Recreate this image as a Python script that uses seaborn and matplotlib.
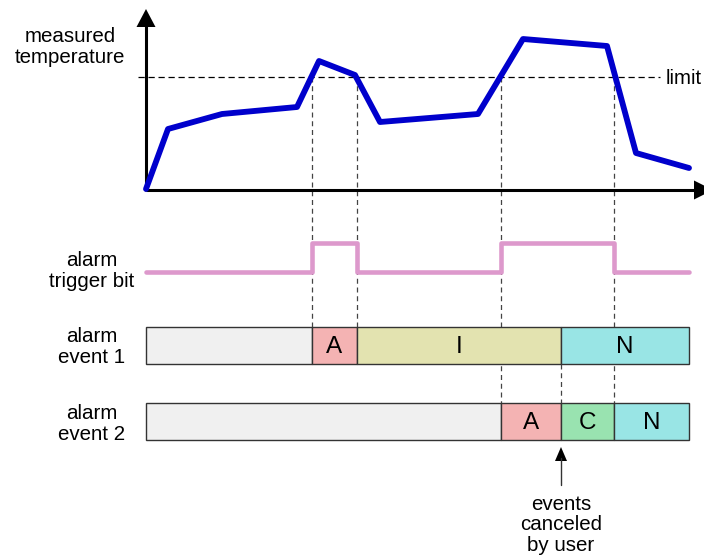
import matplotlib
matplotlib.use("Agg")
import matplotlib.pyplot as plt
import seaborn as sns
import pandas as pd

sns.set_theme(style="white")
plt.rcParams['font.family'] = ['Liberation Sans', 'DejaVu Sans']
plt.rcParams['text.color'] = 'black'

# ---- data (time and temperature in diagram units) ----
time = [0, 22, 76, 151, 173, 209, 234, 332, 377, 461, 490, 543]
temp = [1, 61, 76, 83, 129, 115, 68, 76, 151, 144, 37, 22]
limit = 113
trigger_times = [0, 166, 211, 355, 468, 543]
trigger_levels = [0, 1, 0, 1, 0, 0]
cancel_time = 415
event1 = [(0, 166, "", "#f0f0f0"), (166, 211, "A", "#f4b3b3"),
          (211, 415, "I", "#e3e3b0"), (415, 543, "N", "#99e5e5")]
event2 = [(0, 355, "", "#f0f0f0"), (355, 415, "A", "#f4b3b3"),
          (415, 468, "C", "#99e3b0"), (468, 543, "N", "#99e5e5")]

# ---- layout ----
X0, Y0 = 146, 190
TRIG_LOW, TRIG_HIGH = 272, 243
E1_TOP, E1_BOT = 327, 364
E2_TOP, E2_BOT = 403, 440

fig = plt.figure(figsize=(7.04, 5.58), dpi=100)
ax = fig.add_axes([0, 0, 1, 1])
ax.set_xlim(0, 704)
ax.set_ylim(558, 0)
ax.axis("off")

FS = 14.8
FS_BAR = 17.5
# dashed guide lines
dash = dict(color="#444444", lw=0.9, ls=(0, (4, 3)), zorder=1)
for t in (166, 211):
    ax.plot([X0 + t, X0 + t], [Y0 - limit, E1_TOP], **dash)
for t in (355, 468):
    ax.plot([X0 + t, X0 + t], [Y0 - limit, E2_TOP], **dash)
ax.plot([X0 + cancel_time] * 2, [E1_BOT, E2_TOP], **dash)
ax.plot([138, 660], [Y0 - limit] * 2, color="black", lw=0.9, ls=(0, (5, 3)), zorder=1)
ax.text(666, Y0 - limit + 1, "limit", fontsize=FS, va="center", ha="left", color="black")

# axes with arrows
ax.plot([X0, X0], [Y0 + 1, 22], color="black", lw=2.2, zorder=3, solid_capstyle="butt")
ax.plot([X0, 698], [Y0, Y0], color="black", lw=2.2, zorder=3, solid_capstyle="butt")
ax.fill([X0, X0 - 9.5, X0 + 9.5], [9, 27, 27], color="black", zorder=3, lw=0)
ax.fill([713, 694, 694], [Y0, Y0 - 9.5, Y0 + 9.5], color="black", zorder=3, lw=0)

# temperature curve
df = pd.DataFrame({"x": [X0 + t for t in time], "y": [Y0 - v for v in temp]})
sns.lineplot(data=df, x="x", y="y", ax=ax, color="#0000cc", lw=4.2, sort=False,
             zorder=4, estimator=None)

# trigger bit
tx, ty = [], []
for i in range(len(trigger_times) - 1):
    lvl = TRIG_HIGH if trigger_levels[i] else TRIG_LOW
    tx += [X0 + trigger_times[i], X0 + trigger_times[i + 1]]
    ty += [lvl, lvl]
dft = pd.DataFrame({"x": tx, "y": ty})
sns.lineplot(data=dft, x="x", y="y", ax=ax, color="#dd99cc", lw=3.3, sort=False,
             zorder=4, estimator=None)
ax.set_xlim(0, 704)
ax.set_ylim(558, 0)
ax.set_xlabel("")
ax.set_ylabel("")

# event bars
for segs, top, bot in ((event1, E1_TOP, E1_BOT), (event2, E2_TOP, E2_BOT)):
    for s, e, lab, col in segs:
        ax.barh((top + bot) / 2, e - s, left=X0 + s, height=bot - top, color=col,
                edgecolor="#333333", lw=1.0, zorder=2)
        if lab:
            ax.text(X0 + (s + e) / 2, (top + bot) / 2 + 1.5, lab, fontsize=FS_BAR,
                    ha="center", va="center", zorder=5, color="black")

# row labels
kw = dict(fontsize=FS, ha="center", va="center", linespacing=1.12, color="black")
ax.text(70, 47, "measured\ntemperature", **kw)
ax.text(92, 271, "alarm\ntrigger bit", **kw)
ax.text(92, 347, "alarm\nevent 1", **kw)
ax.text(92, 424, "alarm\nevent 2", **kw)

# cancel arrow
cx = X0 + cancel_time
ax.plot([cx, cx], [485, 458], color="#333333", lw=1.0)
ax.fill([cx, cx - 6, cx + 6], [447, 461, 461], color="black", lw=0)
ax.text(cx, 525, "events\ncanceled\nby user", **kw)

fig.savefig("out.png", dpi=100)
